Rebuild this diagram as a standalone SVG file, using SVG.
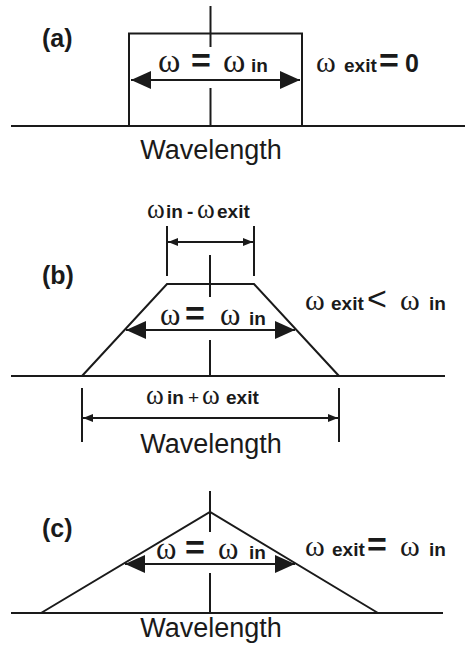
<svg xmlns="http://www.w3.org/2000/svg" width="465" height="647" viewBox="0 0 465 647">
<style>
  .ln{stroke:#1a1a1a;stroke-width:2;fill:none}
  .big{marker-start:url(#bigHead);marker-end:url(#bigHead)}
  .sm{marker-start:url(#smHead);marker-end:url(#smHead)}
  text{fill:#1a1a1a}
  .w{font-family:"Liberation Serif","DejaVu Serif",serif}
  .s{font-family:"Liberation Sans",Arial,sans-serif;font-weight:bold}
  .o{font-family:"Liberation Sans",Arial,sans-serif}
  .lab{font-family:"Liberation Sans",Arial,sans-serif;font-weight:bold;font-size:25px}
  .wl{font-family:"Liberation Sans",Arial,sans-serif;font-size:27px}
</style>
<defs>
  <marker id="bigHead" viewBox="0 0 20 18" refX="20" refY="9" markerWidth="20" markerHeight="18" markerUnits="userSpaceOnUse" orient="auto-start-reverse">
    <path d="M0,0 L20,9 L0,18 z" fill="#1a1a1a"/>
  </marker>
  <marker id="smHead" viewBox="0 0 10 10" refX="10" refY="5" markerWidth="10" markerHeight="10" markerUnits="userSpaceOnUse" orient="auto-start-reverse">
    <path d="M0,1 L10,5 L0,9 z" fill="#1a1a1a"/>
  </marker>
</defs>

<!-- Panel (a) -->
<g id="panel-a">
  <text class="lab" x="42" y="47">(a)</text>
  <line class="ln" x1="11" y1="126" x2="465" y2="126"/>
  <path class="ln" d="M129,126 V33.5 H302 V126"/>
  <line class="ln" x1="210.5" y1="6" x2="210.5" y2="47"/>
  <line class="ln" x1="210.5" y1="88" x2="210.5" y2="126"/>
  <text y="72"><tspan class="w" x="158" font-size="34">ω</tspan><tspan class="s" x="191" font-size="34">=</tspan><tspan class="w" x="223" font-size="34">ω</tspan><tspan class="s" x="251" font-size="19">in</tspan></text>
  <text y="72"><tspan class="w" x="316" font-size="30">ω</tspan><tspan class="s" x="344" font-size="19">exit</tspan><tspan class="s" x="379" font-size="34">=</tspan><tspan class="s" x="405" font-size="25">0</tspan></text>
  <text class="wl" x="211" y="159" text-anchor="middle">Wavelength</text>
</g>

<!-- Panel (b) -->
<g id="panel-b">
  <text class="lab" x="42" y="284">(b)</text>
  <line class="ln" x1="11" y1="376" x2="445" y2="376"/>
  <path class="ln" d="M82,376 L167,284 H254 L339,376"/>
  <line class="ln" x1="210" y1="255" x2="210" y2="297"/>
  <line class="ln" x1="210" y1="340" x2="210" y2="376"/>
  <line class="ln" x1="167" y1="226" x2="167" y2="276"/>
  <line class="ln" x1="254" y1="226" x2="254" y2="276"/>
  <line class="ln" x1="82" y1="388" x2="82" y2="442"/>
  <line class="ln" x1="339" y1="388" x2="339" y2="442"/>
  <text y="218"><tspan class="w" x="147" font-size="27">ω</tspan><tspan class="s" x="166" font-size="19">in</tspan><tspan class="s" x="187" font-size="19">-</tspan><tspan class="w" x="197" font-size="27">ω</tspan><tspan class="s" x="217" font-size="19">exit</tspan></text>
  <text y="325"><tspan class="w" x="160" font-size="31">ω</tspan><tspan class="s" x="185" font-size="34">=</tspan><tspan class="w" x="220" font-size="31">ω</tspan><tspan class="s" x="249" font-size="19">in</tspan></text>
  <text y="310"><tspan class="w" x="305" font-size="30">ω</tspan><tspan class="s" x="331" font-size="19">exit</tspan><tspan class="o" x="367" font-size="34">&lt;</tspan><tspan class="w" x="400" font-size="30">ω</tspan><tspan class="s" x="429" font-size="19">in</tspan></text>
  <text y="404"><tspan class="w" x="146" font-size="27">ω</tspan><tspan class="s" x="167" font-size="19">in</tspan><tspan class="o" x="188" font-size="19">+</tspan><tspan class="w" x="202" font-size="27">ω</tspan><tspan class="s" x="226" font-size="19">exit</tspan></text>
  <text class="wl" x="211" y="453" text-anchor="middle">Wavelength</text>
</g>

<!-- Panel (c) -->
<g id="panel-c">
  <text class="lab" x="42" y="537">(c)</text>
  <line class="ln" x1="11" y1="613" x2="443" y2="613"/>
  <path class="ln" d="M41,613 L210,512 L378,613"/>
  <line class="ln" x1="210" y1="491" x2="210" y2="532"/>
  <line class="ln" x1="210" y1="573" x2="210" y2="613"/>
  <text y="559"><tspan class="w" x="156" font-size="31">ω</tspan><tspan class="s" x="185" font-size="34">=</tspan><tspan class="w" x="218" font-size="31">ω</tspan><tspan class="s" x="249" font-size="19">in</tspan></text>
  <text y="556"><tspan class="w" x="305" font-size="30">ω</tspan><tspan class="s" x="332" font-size="19">exit</tspan><tspan class="s" x="367" font-size="34">=</tspan><tspan class="w" x="400" font-size="30">ω</tspan><tspan class="s" x="429" font-size="19">in</tspan></text>
  <text class="wl" x="211" y="637" text-anchor="middle">Wavelength</text>
</g>

<!-- Connectors (dimension arrows) -->
<g id="connectors">
  <line class="ln big" x1="131" y1="80" x2="300" y2="80"/>
  <line class="ln sm" x1="168" y1="242" x2="253" y2="242"/>
  <line class="ln big" x1="126" y1="330" x2="295" y2="330"/>
  <line class="ln sm" x1="83" y1="418" x2="338" y2="418"/>
  <line class="ln big" x1="125" y1="564" x2="295" y2="564"/>
</g>
</svg>
